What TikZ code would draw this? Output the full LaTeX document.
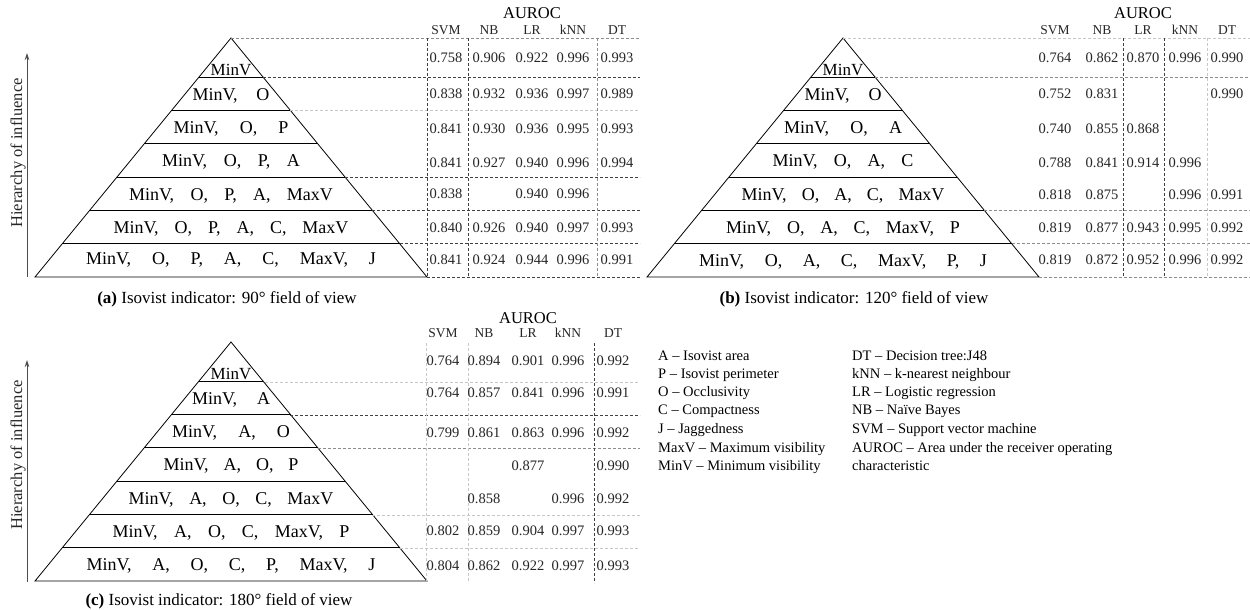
\documentclass[tikz,border=0pt]{standalone}
\usepackage{fontspec}
\setmainfont{Liberation Serif}
\usetikzlibrary{arrows.meta}
\newcommand{\fs}[1]{\fontsize{#1}{#1}\selectfont}
\newcommand{\rw}[2]{\makebox[#1pt][s]{#2}}
\newcommand{\g}{\hfill}
\tikzset{
 pyr/.style={line width=0.8pt, black},
 lab/.style={font=\fs{18}, anchor=base, inner sep=0pt},
 toplab/.style={font=\fs{17}, anchor=base, inner sep=0pt},
 num/.style={font=\fs{14.5}, anchor=base, inner sep=0pt, text=black!85},
 hdr/.style={font=\fs{13.5}, anchor=base, inner sep=0pt, text=black!85},
 auroc/.style={font=\fs{16.5}, anchor=base, inner sep=0pt},
 dk/.style={dash pattern=on 3pt off 2pt, line width=0.6pt, black!75},
 md/.style={dash pattern=on 3pt off 2pt, line width=0.6pt, black!45},
 ft/.style={dash pattern=on 3pt off 2pt, line width=0.6pt, black!22},
 captxt/.style={font=\fs{17}, anchor=base, inner sep=0pt},
 leg/.style={font=\fs{14.5}, anchor=base west, inner sep=0pt},
 axarrow/.style={-{Stealth[length=7pt,width=4.5pt]}, line width=1pt, black!70},
 axl/.style={font=\fs{16.5}, rotate=90, inner sep=0pt, text=black!85},
}
% pyramid: #1 apex x, #2 apex y, #3 name
\newcommand{\pyr}[3]{%
 \coordinate (#3T) at (#1,#2);
 \coordinate (#3L) at (#1-196,#2+239);
 \coordinate (#3R) at (#1+196,#2+239);
 \draw[pyr] (#3T) -- (#3L) -- (#3R) -- cycle;
 \foreach \d in {39,72,105,139,172,205}{
   \draw[pyr] ({#1-0.82008*\d},{#2+\d}) -- ({#1+0.82008*\d},{#2+\d});
 }
}
% table row: #1 name prefix, #2 baseline y, #3..#7 values ; columns in \cA..\cE
\newcommand{\trow}[7]{%
 \node[num] (#1a) at (\cA,#2) {#3};
 \node[num] (#1b) at (\cB,#2) {#4};
 \node[num] (#1c) at (\cC,#2) {#5};
 \node[num] (#1d) at (\cD,#2) {#6};
 \node[num] (#1e) at (\cE,#2) {#7};
}
\newcommand{\thead}[3]{% #1 prefix, #2 header baseline, #3 auroc baseline
 \node[auroc] (#1au) at (\cC,#3) {AUROC};
 \node[hdr] (#1h1) at (\cA,#2) {SVM};
 \node[hdr] (#1h2) at (\cB,#2) {NB};
 \node[hdr] (#1h3) at (\cC,#2) {LR};
 \node[hdr] (#1h4) at (\cD,#2) {kNN};
 \node[hdr] (#1h5) at (\cE,#2) {DT};
}
\begin{document}
\begin{tikzpicture}[x=1pt,y=-1pt]
\fill[white] (0,0) rectangle (1250,610);
\useasboundingbox (0,0) rectangle (1250,610);

% ================= Panel (a) =================
\pyr{231}{38}{pa}
\node[toplab] (pa1) at (231,75.5) {MinV};
\node[lab] (pa2) at (231,100) {\rw{77}{MinV,\g O}};
\node[lab] (pa3) at (231,133) {\rw{115}{MinV,\g O,\g P}};
\node[lab] (pa4) at (231,166.5) {\rw{138}{MinV,\g O,\g P,\g A}};
\node[lab] (pa5) at (231,200) {\rw{204}{MinV,\g O,\g P,\g A,\g MaxV}};
\node[lab] (pa6) at (231,233) {\rw{235}{MinV,\g O,\g P,\g A,\g C,\g MaxV}};
\node[lab] (pa7) at (231,264) {\rw{290}{MinV,\g O,\g P,\g A,\g C,\g MaxV,\g J}};
% grid
\draw[md] (231,38) -- (640,38);
\draw[dk] (263,77) -- (640,77);
\draw[ft] (290,110) -- (640,110);
\draw[dk] (345,177) -- (640,177);
\draw[dk] (372,210) -- (640,210);
\draw[dk] (400,243) -- (640,243);
\draw[dk] (paR) -- (640,277);
\draw[dk] (427,38) -- (427,277);
\draw[dk] (468,38) -- (468,277);
\draw[md] (597,38) -- (597,277);
% table
\def\cA{446}\def\cB{489}\def\cC{532}\def\cD{573}\def\cE{617}
\thead{ta}{35}{19}
\trow{ta1}{63}{0.758}{0.906}{0.922}{0.996}{0.993}
\trow{ta2}{99}{0.838}{0.932}{0.936}{0.997}{0.989}
\trow{ta3}{133}{0.841}{0.930}{0.936}{0.995}{0.993}
\trow{ta4}{167}{0.841}{0.927}{0.940}{0.996}{0.994}
\trow{ta5}{198}{0.838}{}{0.940}{0.996}{}
\trow{ta6}{232}{0.840}{0.926}{0.940}{0.997}{0.993}
\trow{ta7}{264}{0.841}{0.924}{0.944}{0.996}{0.991}
% axis
\coordinate (aa0) at (27,277);
\coordinate (aa1) at (27,53);
\draw[axarrow] (aa0) -- (aa1);
\node[axl] (aal) at (18,153) {Hierarchy of influence};
\node[captxt] (capa) at (227,303) {\textbf{(a)} Isovist indicator: 90° field of view};

% ================= Panel (b) =================
\pyr{843}{38}{pb}
\node[toplab] (pb1) at (843,75.5) {MinV};
\node[lab] (pb2) at (843,100) {\rw{77}{MinV,\g O}};
\node[lab] (pb3) at (843,133) {\rw{118}{MinV,\g O,\g A}};
\node[lab] (pb4) at (843,166.5) {\rw{141}{MinV,\g O,\g A,\g C}};
\node[lab] (pb5) at (843,200) {\rw{203}{MinV,\g O,\g A,\g C,\g MaxV}};
\node[lab] (pb6) at (843,233) {\rw{234}{MinV,\g O,\g A,\g C,\g MaxV,\g P}};
\node[lab] (pb7) at (843,266.5) {\rw{288}{MinV,\g O,\g A,\g C,\g MaxV,\g P,\g J}};
\draw[ft] (843,38) -- (1250,38);
\draw[md] (875,77) -- (1250,77);
\draw[md] (984,210) -- (1250,210);
\draw[md] (1012,243) -- (1250,243);
\draw[md] (pbR) -- (1250,277);
\draw[dk] (1123,38) -- (1123,277);
\draw[dk] (1164,38) -- (1164,277);
\draw[ft] (1207,38) -- (1207,277);
\def\cA{1055}\def\cB{1102}\def\cC{1143}\def\cD{1185}\def\cE{1227}
\thead{tb}{35}{19}
\trow{tb1}{63}{0.764}{0.862}{0.870}{0.996}{0.990}
\trow{tb2}{99}{0.752}{0.831}{}{}{0.990}
\trow{tb3}{133}{0.740}{0.855}{0.868}{}{}
\trow{tb4}{167}{0.788}{0.841}{0.914}{0.996}{}
\trow{tb5}{199}{0.818}{0.875}{}{0.996}{0.991}
\trow{tb6}{232}{0.819}{0.877}{0.943}{0.995}{0.992}
\trow{tb7}{264}{0.819}{0.872}{0.952}{0.996}{0.992}
\node[captxt] (capb) at (854,303) {\textbf{(b)} Isovist indicator: 120° field of view};

% ================= Panel (c) =================
\pyr{231}{342}{pc}
\node[toplab] (pc1) at (231,379.5) {MinV};
\node[lab] (pc2) at (231,404) {\rw{78}{MinV,\g A}};
\node[lab] (pc3) at (231,437) {\rw{118}{MinV,\g A,\g O}};
\node[lab] (pc4) at (231,470.5) {\rw{135}{MinV,\g A,\g O,\g P}};
\node[lab] (pc5) at (231,504) {\rw{205}{MinV,\g A,\g O,\g C,\g MaxV}};
\node[lab] (pc6) at (231,537) {\rw{237}{MinV,\g A,\g O,\g C,\g MaxV,\g P}};
\node[lab] (pc7) at (231,570.5) {\rw{289}{MinV,\g A,\g O,\g C,\g P,\g MaxV,\g J}};
\draw[ft] (265,382) -- (640,382);
\draw[dk] (290,415) -- (640,415);
\draw[md] (318,448) -- (640,448);
\draw[ft] (372,515) -- (640,515);
\draw[ft] (400,548) -- (640,548);
\draw[ft] (426,343) -- (426,583);
\draw[ft] (468,343) -- (468,583);
\draw[dk] (594,343) -- (594,583);
\def\cA{443}\def\cB{484}\def\cC{528}\def\cD{568}\def\cE{613}
\thead{tc}{337}{323}
\trow{tc1}{365}{0.764}{0.894}{0.901}{0.996}{0.992}
\trow{tc2}{397}{0.764}{0.857}{0.841}{0.996}{0.991}
\trow{tc3}{437}{0.799}{0.861}{0.863}{0.996}{0.992}
\trow{tc4}{470}{}{}{0.877}{}{0.990}
\trow{tc5}{503}{}{0.858}{}{0.996}{0.992}
\trow{tc6}{535}{0.802}{0.859}{0.904}{0.997}{0.993}
\trow{tc7}{570}{0.804}{0.862}{0.922}{0.997}{0.993}
\coordinate (ca0) at (27,582);
\coordinate (ca1) at (27,360);
\draw[axarrow] (ca0) -- (ca1);
\node[axl] (cal) at (18,455) {Hierarchy of influence};
\node[captxt] (capc) at (219,605) {\textbf{(c)} Isovist indicator: 180° field of view};

% ================= Legend =================
\node[leg] (l1) at (658,360) {A -- Isovist area};
\node[leg] (l2) at (658,378) {P -- Isovist perimeter};
\node[leg] (l3) at (658,396) {O -- Occlusivity};
\node[leg] (l4) at (658,414) {C -- Compactness};
\node[leg] (l5) at (658,433) {J -- Jaggedness};
\node[leg] (l6) at (658,452) {MaxV -- Maximum visibility};
\node[leg] (l7) at (658,470) {MinV -- Minimum visibility};
\node[leg] (r1) at (852,360) {DT -- Decision tree:J48};
\node[leg] (r2) at (852,378) {kNN -- k-nearest neighbour};
\node[leg] (r3) at (852,396) {LR -- Logistic regression};
\node[leg] (r4) at (852,414) {NB -- Naïve Bayes};
\node[leg] (r5) at (852,433) {SVM -- Support vector machine};
\node[leg] (r6) at (852,452) {AUROC -- Area under the receiver operating};
\node[leg] (r7) at (852,470) {characteristic};
\end{tikzpicture}
\end{document}
